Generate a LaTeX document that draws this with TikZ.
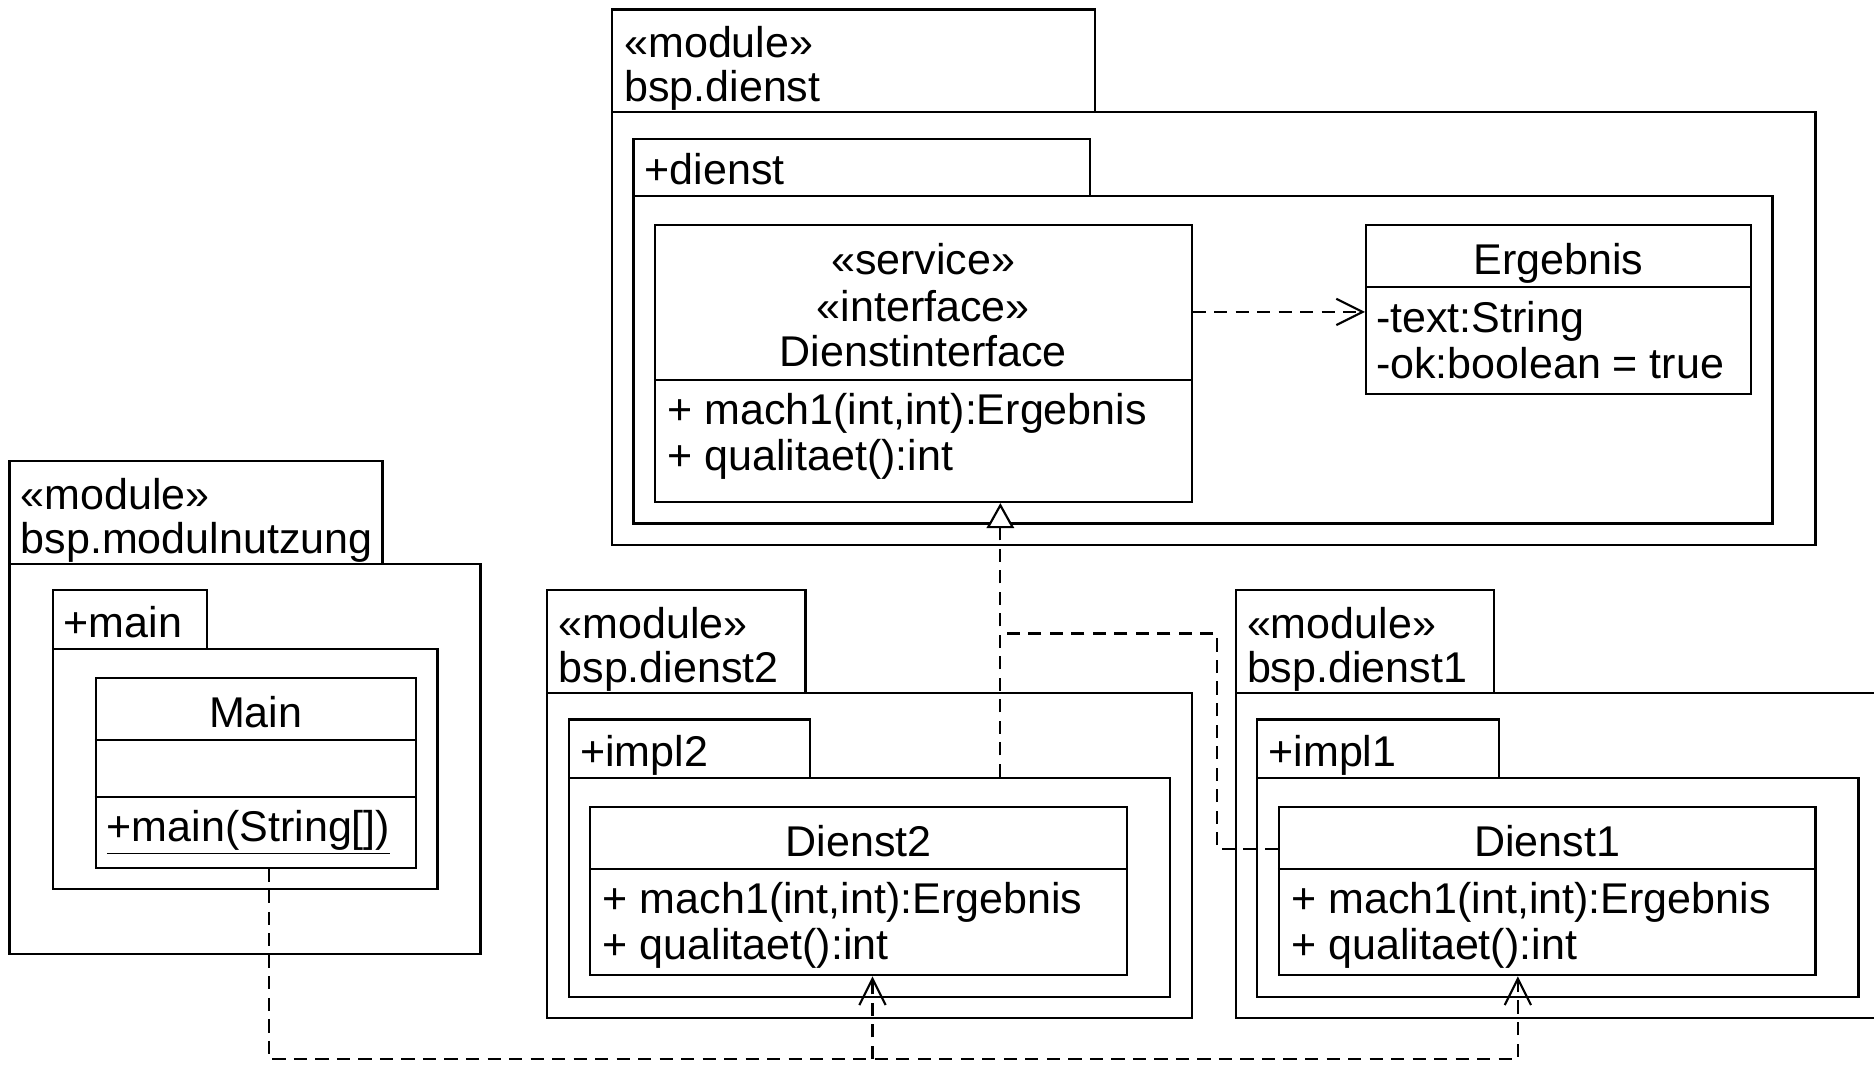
\documentclass[tikz,border=0pt]{standalone}
\usepackage{fontspec}
\setmainfont{Liberation Sans}
\usetikzlibrary{fit,arrows.meta,calc}
\tikzset{
  frame/.style={draw, line width=0.9pt, inner sep=0pt, fit={#1}},
  sepline/.style={line width=0.9pt},
  lbl/.style={inner sep=0pt, font=\fontsize{18pt}{19pt}\selectfont},
  dashline/.style={line width=0.9pt, dash pattern=on 5.5pt off 3.5pt},
  dep/.style={dashline, -{Straight Barb[length=11pt,width=11pt,line width=0.9pt]}},
  real/.style={dashline, -{Triangle[length=10.5pt,width=11.5pt,fill=white,line width=0.9pt]}}
}
\begin{document}
\begin{tikzpicture}[x=0.5pt,y=-0.5pt]
\fill[white] (0,0) rectangle (1568,891);
\useasboundingbox (0,0) rectangle (1568,891);
\clip (0,0) rectangle (1568,891);

% ---------- module bsp.dienst ----------
\node[frame={(512,8)(916,94)}] (dtab) {};
\node[frame={(512,94)(1519,456)}] (dbody) {};
\node[lbl, anchor=base west] (dt1) at (522,48) {«module»};
\node[lbl, anchor=base west] (dt2) at (522,85) {bsp.dienst};
\node[frame={(530,116)(912,164)}] (ptab) {};
\node[frame={(530,164)(1483,438)}] (pbody) {};
\node[lbl, anchor=base west] (pt) at (539,154) {+dienst};

\node[frame={(548,188)(997,420)}] (iface) {};
\draw[sepline] (iface.west |- 0,318) -- (iface.east |- 0,318);
\node[lbl, anchor=base] (s1) at (772.5,230) {«service»};
\node[lbl, anchor=base] (s2) at (772.5,269) {«interface»};
\node[lbl, anchor=base] (s3) at (772.5,307) {Dienstinterface};
\node[lbl, anchor=base west] (io1) at (558,355) {+ mach1(int,int):Ergebnis};
\node[lbl, anchor=base west] (io2) at (558,394) {+ qualitaet():int};

\node[frame={(1143,188)(1465,330)}] (erg) {};
\draw[sepline] (erg.west |- 0,240) -- (erg.east |- 0,240);
\node[lbl, anchor=base] (et) at (1304,230) {Ergebnis};
\node[lbl, anchor=base west] (ea1) at (1151,278) {-text:String};
\node[lbl, anchor=base west] (ea2) at (1151,317) {-ok:boolean = true};

% ---------- module bsp.modulnutzung ----------
\node[frame={(8,386)(320,472)}] (mtab) {};
\node[frame={(8,472)(402,798)}] (mbody) {};
\node[lbl, anchor=base west] (mt1) at (17,426) {«module»};
\node[lbl, anchor=base west] (mt2) at (17,463) {bsp.modulnutzung};
\node[frame={(44,494)(173,543)}] (mptab) {};
\node[frame={(44,543)(366,744)}] (mpbody) {};
\node[lbl, anchor=base west] (mpt) at (53,533) {+main};
\node[frame={(80,567)(348,726)}] (mainc) {};
\draw[sepline] (mainc.west |- 0,619) -- (mainc.east |- 0,619);
\draw[sepline] (mainc.west |- 0,667) -- (mainc.east |- 0,667);
\node[lbl, anchor=base] (mct) at (214,609) {Main};
\node[lbl, anchor=base west] (mco) at (89,704) {\underline{+main(String[])}};

% ---------- module bsp.dienst2 ----------
\node[frame={(458,494)(674,580)}] (d2tab) {};
\node[frame={(458,580)(997,852)}] (d2body) {};
\node[lbl, anchor=base west] (d2t1) at (467,534) {«module»};
\node[lbl, anchor=base west] (d2t2) at (467,571) {bsp.dienst2};
\node[frame={(476,602)(678,651)}] (i2tab) {};
\node[frame={(476,651)(979,834)}] (i2body) {};
\node[lbl, anchor=base west] (i2t) at (485,641) {+impl2};
\node[frame={(494,675)(943,816)}] (d2) {};
\draw[sepline] (d2.west |- 0,727) -- (d2.east |- 0,727);
\node[lbl, anchor=base] (d2n) at (718.5,717) {Dienst2};
\node[lbl, anchor=base west] (d2o1) at (504,764) {+ mach1(int,int):Ergebnis};
\node[lbl, anchor=base west] (d2o2) at (504,803) {+ qualitaet():int};

% ---------- module bsp.dienst1 ----------
\node[frame={(1034,494)(1250,580)}] (d1tab) {};
\node[frame={(1034,580)(1600,852)}] (d1body) {};
\node[lbl, anchor=base west] (d1t1) at (1043,534) {«module»};
\node[lbl, anchor=base west] (d1t2) at (1043,571) {bsp.dienst1};
\node[frame={(1052,602)(1254,651)}] (i1tab) {};
\node[frame={(1052,651)(1555,834)}] (i1body) {};
\node[lbl, anchor=base west] (i1t) at (1061,641) {+impl1};
\node[frame={(1070,675)(1519,816)}] (d1) {};
\draw[sepline] (d1.west |- 0,727) -- (d1.east |- 0,727);
\node[lbl, anchor=base] (d1n) at (1294.5,717) {Dienst1};
\node[lbl, anchor=base west] (d1o1) at (1080,764) {+ mach1(int,int):Ergebnis};
\node[lbl, anchor=base west] (d1o2) at (1080,803) {+ qualitaet():int};

% ---------- connectors ----------
\draw[dep] (iface.east |- 0,261) -- (erg.west |- 0,261);

\coordinate (rx) at ($(iface.south)+(64.5,0)$);
\coordinate (j1) at (1018,530);
\draw[real] (rx |- i2body.north) -- (rx);
\draw[dashline] ($(d1.north west)+(0,36)$) -| (j1) -- (rx |- j1);

\coordinate (bl) at (225,886);
\coordinate (br) at (1270,886);
\coordinate (bm) at (730,886);
\draw[dep] (bl |- mainc.south) -- (bl) -- (br) -- (br |- d1.south);
\draw[dep] (bm) -- (bm |- d2.south);
\end{tikzpicture}
\end{document}
